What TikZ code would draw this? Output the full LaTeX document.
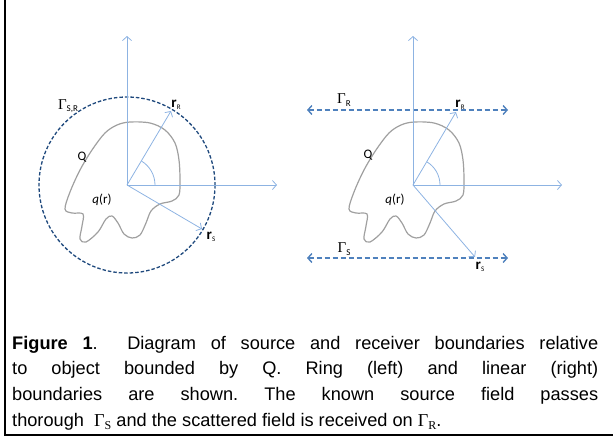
\documentclass[tikz,border=0pt]{standalone}
\usepackage{fontspec}
\setmainfont{Liberation Sans}
\newfontfamily\lblfont{Carlito}
\newfontfamily\tmsfont{Liberation Serif}
\usetikzlibrary{arrows.meta}
\definecolor{axisblue}{HTML}{8DB3E2}
\definecolor{ringblue}{HTML}{1F497D}
\definecolor{lineblue}{HTML}{4F81BD}
\definecolor{blobgray}{HTML}{A0A0A0}
\newcommand{\vecr}[1]{{\fontsize{15}{15}\selectfont\lblfont\bfseries r}\raisebox{-2pt}{\fontsize{7}{7}\selectfont\lblfont #1}}
\newcommand{\gam}[1]{{\fontsize{15}{15}\selectfont\tmsfont Γ}\raisebox{-2.5pt}{\fontsize{9}{9}\selectfont\lblfont #1}}
\newcommand{\capgam}[1]{{\tmsfont Γ\raisebox{-3pt}{\fontsize{12}{12}\selectfont #1}}}
\tikzset{
  axis/.style={draw=axisblue, line width=0.8pt, -{Straight Barb[length=4pt,width=9pt]}},
  ring/.style={draw=ringblue, line width=1.3pt, dash pattern=on 3.5pt off 2pt},
  gline/.style={draw=lineblue, line width=1.4pt, dash pattern=on 5pt off 3pt,
     {Straight Barb[length=4pt,width=9pt]}-{Straight Barb[length=4pt,width=9pt]}},
  blobline/.style={draw=blobgray, line width=1.2pt},
  lbl/.style={inner sep=0pt, font=\lblfont\fontsize{13}{13}\selectfont},
  anglearc/.style={draw=axisblue, line width=0.8pt},
  blob/.pic={
    \draw[blobline] plot[smooth cycle, tension=0.55] coordinates {
      (3,-63) (23,-62) (38,-55) (48,-42) (52,-25) (53,-5) (52,10) (45,16)
      (33,19) (24,26) (19,38) (13,50) (5,53) (-3,49) (-9,38) (-15,31)
      (-21,34) (-29,47) (-41,57) (-47,54) (-45,41) (-44,29) (-55,28)
      (-62,24) (-57,7) (-47,-15) (-35,-35) (-22,-52) (-10,-60)};
  }
}
\begin{document}
\begin{tikzpicture}[x=1pt,y=-1pt]
\useasboundingbox (0,0) rectangle (613,440);
% frame
\coordinate (ftop) at (5,0);
\coordinate (fcorner) at (5,435);
\coordinate (fright) at (613,435);
\draw[line width=2pt] (ftop) -- (fcorner) -- (fright);

% ---------- left diagram ----------
\coordinate (o1) at (127,185);
\coordinate (o1up) at (127,36);
\coordinate (o1rt) at (277,185);
\coordinate (o1R) at (171,111);
\coordinate (o1S) at (202,229);
\pic at (o1) {blob};
\draw[ring] (o1) circle[radius=88];
\draw[axis] (o1) -- (o1up);
\draw[axis] (o1) -- (o1rt);
\draw[axis] (o1) -- (o1R);
\draw[axis] (o1) -- (o1S);
\draw[anglearc] (o1) ++(28,0) arc[start angle=0, end angle=-59, radius=28];
\node[lbl] (gsr) at (68,106) {\gam{S,R}};
\node[lbl] (rR1) at (176,105) {\vecr{R}};
\node[lbl] (rS1) at (211,237) {\vecr{S}};
\node[lbl] (Q1) at (82,157) {Q};
\node[lbl] (q1) at (102,200) {\itshape q\upshape(r)};

% ---------- right diagram ----------
\coordinate (o2) at (413,185);
\coordinate (o2up) at (413,36);
\coordinate (o2rt) at (562,185);
\coordinate (o2R) at (456,112);
\coordinate (o2S) at (475,257);
\coordinate (gRl) at (307,110);
\coordinate (gRr) at (508,110);
\coordinate (gSl) at (307,258);
\coordinate (gSr) at (508,258);
\pic at (411,185) {blob};
\draw[gline] (gRl) -- (gRr);
\draw[gline] (gSl) -- (gSr);
\draw[axis] (o2) -- (o2up);
\draw[axis] (o2) -- (o2rt);
\draw[axis] (o2) -- (o2R);
\draw[axis] (o2) -- (o2S);
\draw[anglearc] (o2) ++(27,0) arc[start angle=0, end angle=-59, radius=27];
\node[lbl] (gR) at (344,100) {\gam{R}};
\node[lbl] (gS) at (344,249) {\gam{S}};
\node[lbl] (rR2) at (460,105) {\vecr{R}};
\node[lbl] (rS2) at (480,267) {\vecr{S}};
\node[lbl] (Q2) at (368,155) {Q};
\node[lbl] (q2) at (395,200) {\itshape q\upshape(r)};

% ---------- caption ----------
\node[anchor=north west, inner sep=0pt, text width=586pt, align=justify,
      font=\fontsize{18.2}{25.6}\selectfont\frenchspacing] (cap) at (12,336) {%
\textbf{Figure 1}.\ \ Diagram of source and receiver boundaries relative\linebreak
to object bounded by Q. Ring (left) and linear (right)\linebreak
boundaries are shown.\ The known source field passes\linebreak
thorough\ \ \capgam{S} and the scattered field is received on \capgam{R}.};
\end{tikzpicture}
\end{document}
